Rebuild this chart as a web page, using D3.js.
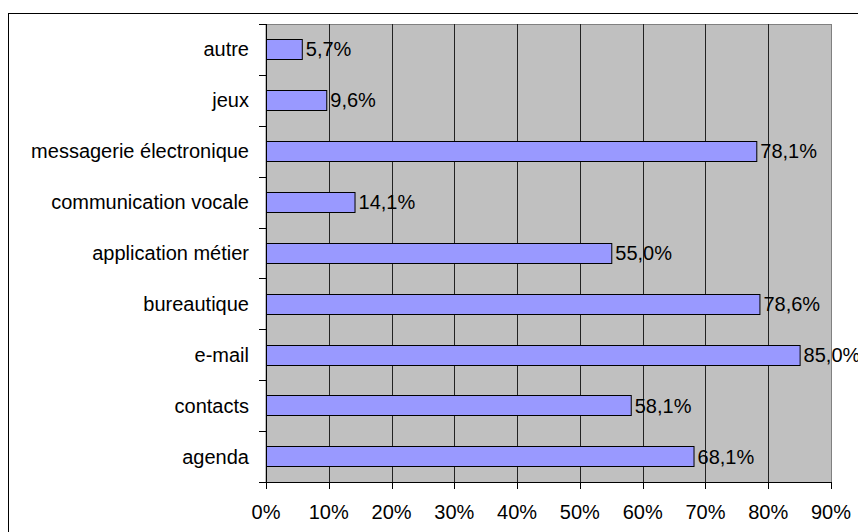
<!DOCTYPE html>
<html>
<head>
<meta charset="utf-8">
<script src="https://cdn.jsdelivr.net/npm/d3@7"></script>
<style>
  html, body { margin: 0; padding: 0; background: #fff; overflow: hidden; }
  svg { display: block; overflow: hidden; }
  text { font-family: "Liberation Sans", Arial, sans-serif; fill: #000; }
</style>
</head>
<body>
<svg id="chart" width="858" height="532"></svg>
<script>
const categories = ["autre", "jeux", "messagerie électronique", "communication vocale",
  "application métier", "bureautique", "e-mail", "contacts", "agenda"];
const values = [5.7, 9.6, 78.1, 14.1, 55.0, 78.6, 85.0, 58.1, 68.1];
const tickValues = [0, 10, 20, 30, 40, 50, 60, 70, 80, 90];
const tickLabels = ["0%", "10%", "20%", "30%", "40%", "50%", "60%", "70%", "80%", "90%"];

const svg = d3.select("#chart");
const W = 858, H = 532;
const plot = { left: 266, right: 831, top: 24, bottom: 482 };

// outer frame (right and bottom edges fall outside the picture, as in the reference)
svg.append("rect").attr("x", 8.5).attr("y", 13.5).attr("width", W).attr("height", H)
  .attr("fill", "#fff").attr("stroke", "#000").attr("stroke-width", 1);

const x = d3.scaleLinear().domain([0, 90]).range([plot.left, plot.right]);
const y = d3.scaleBand().domain(categories).range([plot.top, plot.bottom])
  .paddingInner(0.6).paddingOuter(0.3);
const yb = d3.scaleBand().domain(categories).range([plot.top, plot.bottom]);

// plot background
svg.append("rect").attr("x", plot.left).attr("y", plot.top + 0.5)
  .attr("width", plot.right - plot.left + 0.5).attr("height", plot.bottom - plot.top)
  .attr("fill", "#c0c0c0").attr("stroke", "#808080").attr("stroke-width", 1);

// gridlines
svg.append("g").selectAll("line").data(tickValues.filter(v => v > 0 && v < 90)).join("line")
  .attr("x1", d => Math.round(x(d)) + 0.5).attr("x2", d => Math.round(x(d)) + 0.5)
  .attr("y1", plot.top).attr("y2", plot.bottom)
  .attr("stroke", "#222").attr("stroke-width", 1);

// bars
svg.append("g").selectAll("rect").data(values).join("rect")
  .attr("x", x(0) + 0.5)
  .attr("y", (d, i) => Math.round(y(categories[i])) + 0.5)
  .attr("width", d => x(d) - x(0))
  .attr("height", Math.round(y.bandwidth()))
  .attr("fill", "#9999ff").attr("stroke", "#000").attr("stroke-width", 1);

// value labels
const fmt = v => v.toFixed(1).replace(".", ",") + "%";
svg.append("g").selectAll("text").data(values).join("text")
  .attr("x", d => x(d) + 4)
  .attr("y", (d, i) => y(categories[i]) + y.bandwidth() / 2)
  .attr("dy", "0.35em")
  .attr("font-size", 20)
  .text(d => fmt(d));

// y axis
const yAxis = svg.append("g");
yAxis.append("line").attr("x1", plot.left + 0.5).attr("x2", plot.left + 0.5)
  .attr("y1", plot.top).attr("y2", plot.bottom).attr("stroke", "#000");
const bounds = categories.map(c => yb(c)).concat([plot.bottom]);
yAxis.selectAll("line.tk").data(bounds).join("line").attr("class", "tk")
  .attr("x1", plot.left - 7).attr("x2", plot.left)
  .attr("y1", d => Math.round(d) + 0.5).attr("y2", d => Math.round(d) + 0.5)
  .attr("stroke", "#000");
yAxis.selectAll("text").data(categories).join("text")
  .attr("x", plot.left - 17)
  .attr("y", d => yb(d) + yb.bandwidth() / 2)
  .attr("dy", "0.35em")
  .attr("text-anchor", "end")
  .attr("font-size", 20)
  .text(d => d);

// x axis
const xAxis = svg.append("g");
xAxis.append("line").attr("x1", plot.left - 7).attr("x2", plot.right + 1)
  .attr("y1", plot.bottom + 0.5).attr("y2", plot.bottom + 0.5).attr("stroke", "#000");
xAxis.selectAll("line.tk").data(tickValues).join("line").attr("class", "tk")
  .attr("x1", d => Math.round(x(d)) + 0.5).attr("x2", d => Math.round(x(d)) + 0.5)
  .attr("y1", plot.bottom).attr("y2", plot.bottom + 7)
  .attr("stroke", "#000");
xAxis.selectAll("text").data(tickValues).join("text")
  .attr("x", d => x(d))
  .attr("y", 519)
  .attr("text-anchor", "middle")
  .attr("font-size", 20)
  .text((d, i) => tickLabels[i]);
</script>
</body>
</html>
